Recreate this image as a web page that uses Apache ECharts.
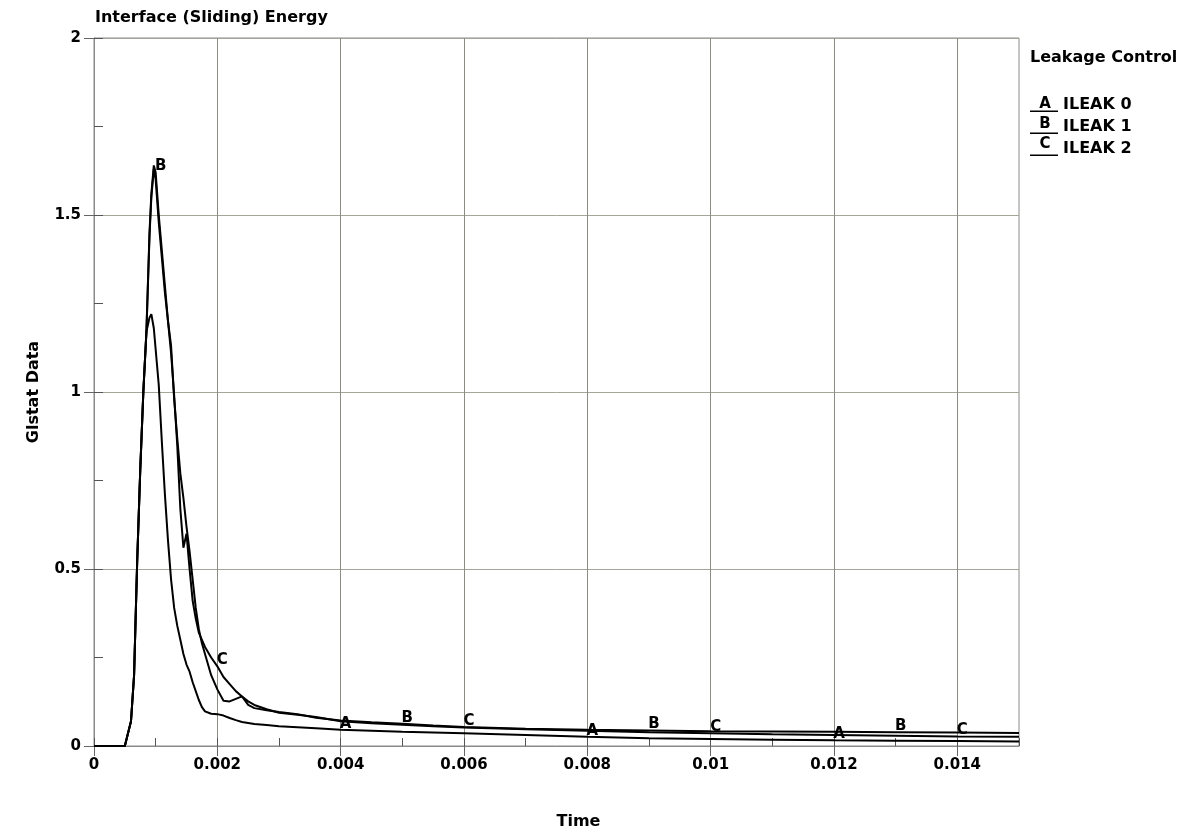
<!DOCTYPE html>
<html>
<head>
<meta charset="utf-8">
<title>Interface (Sliding) Energy</title>
<script src="https://cdn.jsdelivr.net/npm/echarts@6/dist/echarts.min.js"></script>
<style>
  html, body { margin: 0; padding: 0; background: #ffffff; }
  #chart { width: 1191px; height: 837px; }
</style>
</head>
<body>
<div id="chart"></div>
<script>
// Sample times (s) shared by the three curves
const time = [
  0, 0.0005, 0.0006, 0.00065, 0.0007, 0.00075, 0.0008, 0.00085, 0.0009, 0.00093,
  0.00097, 0.001, 0.00105, 0.0011, 0.00115, 0.0012, 0.00125, 0.0013, 0.00135, 0.0014,
  0.00145, 0.0015, 0.00155, 0.0016, 0.00165, 0.0017, 0.00175, 0.0018, 0.0019, 0.002,
  0.0021, 0.0022, 0.0023, 0.0024, 0.0025, 0.0026, 0.0028, 0.003, 0.0033, 0.0036,
  0.004, 0.0045, 0.005, 0.0055, 0.006, 0.007, 0.008, 0.009, 0.01, 0.011,
  0.012, 0.013, 0.014, 0.015
];

// Interface (sliding) energy per leakage-control setting
const ileak0 = [
  0, 0, 0.07, 0.2, 0.52, 0.78, 1.0, 1.17, 1.21, 1.22,
  1.18, 1.12, 1.02, 0.86, 0.71, 0.58, 0.47, 0.39, 0.34, 0.30,
  0.26, 0.23, 0.21, 0.18, 0.155, 0.13, 0.11, 0.098, 0.091, 0.09,
  0.086, 0.079, 0.073, 0.068, 0.065, 0.062, 0.059, 0.056, 0.053, 0.05,
  0.046, 0.043, 0.040, 0.038, 0.036, 0.031, 0.026, 0.022, 0.02, 0.018,
  0.016, 0.015, 0.014, 0.013
];
const ileak1 = [
  0, 0, 0.07, 0.2, 0.52, 0.78, 1.0, 1.17, 1.45, 1.56,
  1.64, 1.62, 1.5, 1.4, 1.3, 1.2, 1.13, 0.98, 0.87, 0.77,
  0.7, 0.62, 0.55, 0.47, 0.39, 0.33, 0.29, 0.26, 0.20, 0.16,
  0.128, 0.126, 0.133, 0.14, 0.116, 0.107, 0.101, 0.096, 0.09, 0.08,
  0.072, 0.067, 0.063, 0.058, 0.054, 0.049, 0.046, 0.044, 0.042, 0.041,
  0.04, 0.039, 0.038, 0.037
];
const ileak2 = [
  0, 0, 0.07, 0.2, 0.52, 0.78, 1.0, 1.17, 1.44, 1.55,
  1.63, 1.6, 1.48, 1.38, 1.28, 1.2, 1.11, 0.99, 0.85, 0.67,
  0.56, 0.6, 0.5, 0.41, 0.36, 0.32, 0.30, 0.28, 0.25, 0.225,
  0.195, 0.175, 0.155, 0.14, 0.126, 0.116, 0.104, 0.094, 0.088, 0.082,
  0.07, 0.064, 0.06, 0.056, 0.052, 0.047, 0.043, 0.039, 0.036, 0.033,
  0.031, 0.029, 0.027, 0.026
];

const seriesNames = ['ILEAK 0', 'ILEAK 1', 'ILEAK 2'];
const seriesLetters = ['A', 'B', 'C'];
// Times where each curve carries its identifying letter
const letterTimesA = [0.004, 0.008, 0.012];
const letterTimesB = [0.001, 0.005, 0.009, 0.013];
const letterTimesC = [0.002, 0.006, 0.01, 0.014];

// Axis ticks
const xMajorTicks = [0, 0.002, 0.004, 0.006, 0.008, 0.01, 0.012, 0.014];
const yMajorTicks = [0, 0.5, 1, 1.5, 2];

const FONT = 'DejaVu Sans';
const values = [ileak0, ileak1, ileak2];
const letterTimes = [letterTimesA, letterTimesB, letterTimesC];

const lineSeries = values.map((vals, k) => ({
  name: seriesNames[k],
  type: 'line',
  xAxisIndex: 0,
  yAxisIndex: 0,
  data: time.map((t, i) => [t, vals[i]]),
  showSymbol: false,
  symbol: 'none',
  itemStyle: { color: '#000' },
  lineStyle: { color: '#000', width: 2 },
  z: 3
}));

// Curve letters sit on the curve values at their sample times
const letterSeries = values.map((vals, k) => ({
  name: seriesNames[k] + ' mark',
  type: 'scatter',
  xAxisIndex: 0,
  yAxisIndex: 0,
  silent: true,
  symbolSize: 2,
  itemStyle: { color: 'rgba(0,0,0,0)', opacity: 1 },
  data: letterTimes[k].map(t => [t, vals[time.indexOf(t)]]),
  label: {
    show: true,
    position: 'inside',
    offset: [5, -6],
    formatter: seriesLetters[k],
    fontFamily: FONT,
    fontWeight: 'bold',
    fontSize: 15,
    color: '#000',
    opacity: 1
  },
  z: 5
}));

const chart = echarts.init(document.getElementById('chart'), null, { renderer: 'canvas' });

chart.setOption({
  animation: false,
  backgroundColor: '#ffffff',
  title: [
    {
      text: 'Interface (Sliding) Energy',
      left: 95, top: 10, padding: 0,
      textStyle: { fontFamily: FONT, fontWeight: 'bold', fontSize: 16, color: '#000' }
    },
    {
      text: 'Leakage Control',
      left: 1030, top: 50, padding: 0,
      textStyle: { fontFamily: FONT, fontWeight: 'bold', fontSize: 16, color: '#000' }
    }
  ],
  legend: {
    data: seriesNames,
    orient: 'vertical',
    left: 1030,
    top: 97,
    padding: 0,
    itemWidth: 28,
    itemHeight: 14,
    itemGap: 6,
    selectedMode: false,
    symbolKeepAspect: false,
    icon: 'path://M0,0L0.01,0L0,0.01Z M0,13L30,13L30,14.6L0,14.6Z',
    textStyle: { fontFamily: FONT, fontWeight: 'bold', fontSize: 16, color: '#000' }
  },
  graphic: seriesLetters.map((letter, i) => ({
    type: 'text',
    x: 1045,
    y: 104 + i * 20,
    style: {
      text: letter,
      font: 'bold 15px "' + FONT + '"',
      fill: '#000',
      align: 'center',
      verticalAlign: 'middle'
    },
    z: 10
  })),
  grid: {
    left: 94, right: 172, top: 38, bottom: 91,
    show: true,
    borderColor: '#8a8a8a',
    borderWidth: 1,
    backgroundColor: '#ffffff'
  },
  xAxis: [
    {
      type: 'value',
      min: 0, max: 0.015,
      interval: 0.002,
      position: 'bottom',
      name: 'Time',
      nameLocation: 'middle',
      nameGap: 68,
      nameTextStyle: { fontFamily: FONT, fontWeight: 'bold', fontSize: 16, color: '#000', padding: [0, 0, 0, 44] },
      axisLine: { show: true, lineStyle: { color: '#8a8a8a', width: 1 } },
      axisTick: { show: true, inside: false, length: 10, customValues: xMajorTicks, lineStyle: { color: '#666' } },
      axisLabel: {
        show: true, margin: 12, customValues: xMajorTicks,
        fontFamily: FONT, fontWeight: 'bold', fontSize: 15, color: '#000'
      },
      splitLine: { show: true, lineStyle: { color: '#8c8c84', width: 1 } }
    },
    {
      type: 'value',
      min: 0, max: 0.015,
      interval: 0.001,
      position: 'bottom',
      axisLine: { show: false },
      axisTick: { show: true, inside: true, length: 8, lineStyle: { color: '#555' } },
      axisLabel: { show: false },
      splitLine: { show: false }
    }
  ],
  yAxis: [
    {
      type: 'value',
      min: 0, max: 2,
      interval: 0.5,
      position: 'left',
      name: 'Glstat Data',
      nameLocation: 'middle',
      nameGap: 52,
      nameTextStyle: { fontFamily: FONT, fontWeight: 'bold', fontSize: 16, color: '#000' },
      axisLine: { show: true, lineStyle: { color: '#8a8a8a', width: 1 } },
      axisTick: { show: true, inside: false, length: 10, customValues: yMajorTicks, lineStyle: { color: '#666' } },
      axisLabel: {
        show: true, margin: 13, customValues: yMajorTicks,
        fontFamily: FONT, fontWeight: 'bold', fontSize: 15, color: '#000'
      },
      splitLine: { show: true, lineStyle: { color: '#a5a598', width: 1 } }
    },
    {
      type: 'value',
      min: 0, max: 2,
      interval: 0.25,
      position: 'left',
      axisLine: { show: false },
      axisTick: { show: true, inside: true, length: 9, lineStyle: { color: '#555' } },
      axisLabel: { show: false },
      splitLine: { show: false }
    }
  ],
  series: lineSeries.concat(letterSeries)
});
</script>
</body>
</html>
